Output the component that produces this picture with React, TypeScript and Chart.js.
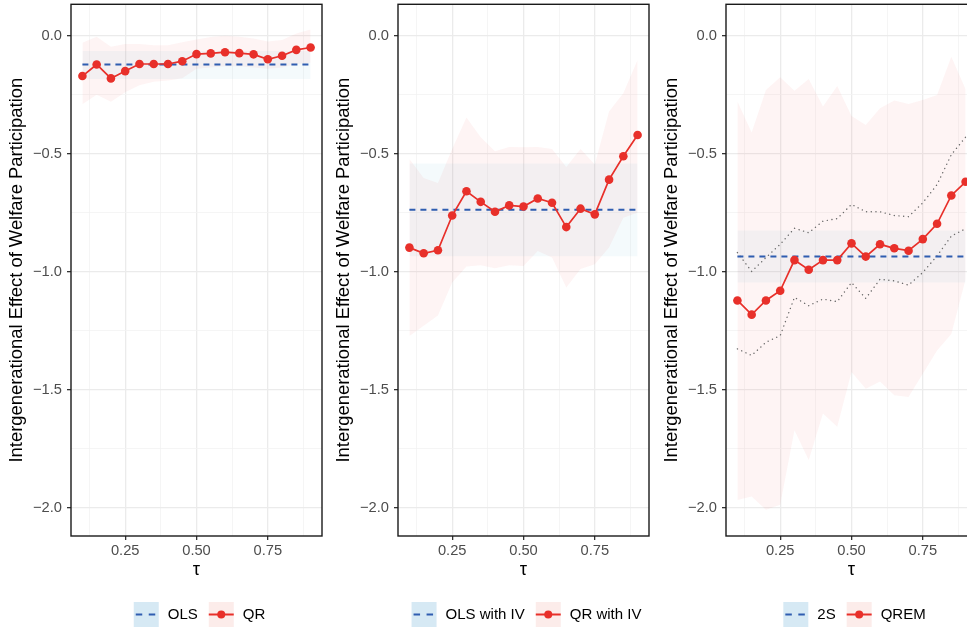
import React, { useEffect, useRef } from 'react';
import { Chart, registerables } from 'chart.js';

Chart.register(...registerables);

// ---------- data ----------
const tau = [0.1, 0.15, 0.2, 0.25, 0.3, 0.35, 0.4, 0.45, 0.5, 0.55, 0.6, 0.65, 0.7, 0.75, 0.8, 0.85, 0.9];

// Panel 1: OLS / QR
const qrEst = [-0.171, -0.122, -0.181, -0.150, -0.120, -0.120, -0.120, -0.108, -0.078, -0.075, -0.070, -0.074, -0.079, -0.100, -0.085, -0.060, -0.050];
const qrLower = [-0.29, -0.25, -0.28, -0.24, -0.21, -0.195, -0.19, -0.18, -0.14, -0.135, -0.13, -0.13, -0.135, -0.14, -0.135, -0.12, -0.115];
const qrUpper = [-0.03, -0.005, -0.047, -0.035, -0.035, -0.04, -0.04, -0.028, -0.016, -0.006, 0.0, -0.005, -0.012, -0.025, -0.018, 0.009, 0.026];
const olsEst = -0.122;
const olsLower = -0.184;
const olsUpper = -0.065;

// Panel 2: OLS with IV / QR with IV
const qrIvEst = [-0.898, -0.922, -0.909, -0.762, -0.659, -0.704, -0.746, -0.719, -0.724, -0.690, -0.708, -0.811, -0.733, -0.757, -0.610, -0.511, -0.421];
const qrIvLower = [-1.273, -1.229, -1.186, -1.046, -0.978, -0.973, -0.985, -0.973, -0.976, -0.912, -0.940, -1.067, -0.989, -0.968, -0.898, -0.771, -0.750];
const qrIvUpper = [-0.522, -0.603, -0.624, -0.480, -0.347, -0.430, -0.490, -0.472, -0.473, -0.472, -0.480, -0.556, -0.480, -0.546, -0.321, -0.244, -0.103];
const olsIvEst = -0.738;
const olsIvLower = -0.935;
const olsIvUpper = -0.542;

// Panel 3: 2S / QREM
const qremEst = [-1.122, -1.182, -1.122, -1.081, -0.951, -0.992, -0.951, -0.951, -0.880, -0.936, -0.884, -0.901, -0.911, -0.862, -0.797, -0.677, -0.619];
const qremLower = [-1.967, -1.953, -2.009, -1.988, -1.672, -1.798, -1.601, -1.657, -1.425, -1.496, -1.465, -1.524, -1.531, -1.432, -1.334, -1.264, -1.032];
const qremUpper = [-0.279, -0.410, -0.230, -0.176, -0.233, -0.184, -0.300, -0.213, -0.340, -0.378, -0.307, -0.275, -0.289, -0.272, -0.251, -0.089, -0.227];
const qremDotLower = [-1.327, -1.355, -1.299, -1.271, -1.109, -1.144, -1.116, -1.127, -1.046, -1.113, -1.032, -1.039, -1.057, -1.003, -0.933, -0.849, -0.818];
const qremDotUpper = [-0.919, -0.999, -0.940, -0.884, -0.816, -0.835, -0.786, -0.775, -0.715, -0.746, -0.746, -0.762, -0.767, -0.708, -0.631, -0.504, -0.430];
const twoSEst = -0.936;
const twoSLower = -1.046;
const twoSUpper = -0.825;

// axes
const yBreaks = [-2, -1.5, -1, -0.5, 0];
const yLabels = ['\u22122.0', '\u22121.5', '\u22121.0', '\u22120.5', '0.0'];
const yMinor = [-1.75, -1.25, -0.75, -0.25];
const xBreaks = [0.25, 0.5, 0.75];
const xLabels = ['0.25', '0.50', '0.75'];
const xMinor = [0.125, 0.375, 0.625, 0.875];
const yTitle = 'Intergenerational Effect of Welfare Participation';
const xTitle = '\u03c4';

// ---------- styles ----------
const FONT = '"Liberation Sans", Arial, Helvetica, sans-serif';
const RED = '#E8302A';
const BLUE = '#2F5DB0';
const RED_FILL = 'rgba(230, 40, 30, 0.05)';
const BLUE_FILL = 'rgba(40, 165, 205, 0.05)';
const RED_KEY = '#FCECEA';
const BLUE_KEY = '#D6E9F4';

const near = (a: number, b: number) => Math.abs(a - b) < 1e-6;

type PanelCfg = {
  meanLabel: string;
  qrLabel: string;
  est: number[];
  lower: number[];
  upper: number[];
  mean: number;
  meanLo: number;
  meanHi: number;
  dotLo?: number[];
  dotHi?: number[];
};

const panels: PanelCfg[] = [
  { meanLabel: 'OLS', qrLabel: 'QR', est: qrEst, lower: qrLower, upper: qrUpper, mean: olsEst, meanLo: olsLower, meanHi: olsUpper },
  { meanLabel: 'OLS with IV', qrLabel: 'QR with IV', est: qrIvEst, lower: qrIvLower, upper: qrIvUpper, mean: olsIvEst, meanLo: olsIvLower, meanHi: olsIvUpper },
  { meanLabel: '2S', qrLabel: 'QREM', est: qremEst, lower: qremLower, upper: qremUpper, mean: twoSEst, meanLo: twoSLower, meanHi: twoSUpper, dotLo: qremDotLower, dotHi: qremDotUpper },
];

const PANEL_W = 327;
const PANEL_H = 629;
const panelLefts = [0, 327, 655];

const framePlugin = {
  id: 'ggFrame',
  afterDraw(chart: any) {
    const { ctx, chartArea } = chart;
    ctx.save();
    ctx.strokeStyle = '#1A1A1A';
    ctx.lineWidth = 1.4;
    ctx.strokeRect(chartArea.left, chartArea.top, chartArea.right - chartArea.left, chartArea.bottom - chartArea.top);
    ctx.restore();
  },
};

const legendPlugin = {
  id: 'ggLegend',
  afterDraw(chart: any, _args: any, opts: any) {
    const { ctx, chartArea } = chart;
    const items: { label: string; kind: string }[] = opts.items || [];
    ctx.save();
    ctx.font = '15px ' + FONT;
    const keyW = 25;
    const keyH = 25;
    const gapKT = 9;
    const gapItem = 11;
    const widths = items.map((it) => keyW + gapKT + ctx.measureText(it.label).width);
    const total = widths.reduce((a, b) => a + b, 0) + gapItem * (items.length - 1);
    let x = (chartArea.left + chartArea.right) / 2 + 3 - total / 2;
    const yTop = chart.height - 27;
    const yc = yTop + keyH / 2;
    items.forEach((it, i) => {
      if (it.kind === 'mean') {
        ctx.fillStyle = BLUE_KEY;
        ctx.fillRect(x, yTop, keyW, keyH);
        ctx.strokeStyle = BLUE;
        ctx.lineWidth = 2;
        ctx.setLineDash([6.5, 6.5]);
        ctx.beginPath();
        ctx.moveTo(x + 2, yc);
        ctx.lineTo(x + keyW, yc);
        ctx.stroke();
        ctx.setLineDash([]);
      } else {
        ctx.fillStyle = RED_KEY;
        ctx.fillRect(x, yTop, keyW, keyH);
        ctx.strokeStyle = RED;
        ctx.lineWidth = 2;
        ctx.beginPath();
        ctx.moveTo(x, yc);
        ctx.lineTo(x + keyW, yc);
        ctx.stroke();
        ctx.fillStyle = RED;
        ctx.beginPath();
        ctx.arc(x + keyW / 2, yc, 4, 0, Math.PI * 2);
        ctx.fill();
      }
      ctx.fillStyle = '#000000';
      ctx.textBaseline = 'middle';
      ctx.textAlign = 'left';
      ctx.fillText(it.label, x + keyW + gapKT, yc + 0.5);
      x += widths[i] + gapItem;
    });
    ctx.restore();
  },
};

function pts(ys: number[]) {
  return tau.map((t, i) => ({ x: t, y: ys[i] }));
}
function flat(v: number) {
  return [{ x: tau[0], y: v }, { x: tau[tau.length - 1], y: v }];
}

function buildConfig(p: PanelCfg): any {
  const hidden = { borderColor: 'rgba(0,0,0,0)', borderWidth: 0, pointRadius: 0, fill: false };
  const datasets: any[] = [
    { ...hidden, data: flat(p.meanLo), order: 20 },
    { ...hidden, data: flat(p.meanHi), fill: '-1', backgroundColor: BLUE_FILL, order: 19 },
    { ...hidden, data: pts(p.lower), order: 18 },
    { ...hidden, data: pts(p.upper), fill: '-1', backgroundColor: RED_FILL, order: 17 },
  ];
  if (p.dotLo && p.dotHi) {
    [p.dotLo, p.dotHi].forEach((d) => {
      datasets.push({
        data: pts(d), borderColor: '#6A6A6A', borderWidth: 1.4, borderDash: [0.1, 4.6], borderCapStyle: 'round',
        pointRadius: 0, fill: false, order: 5,
      });
    });
  }
  datasets.push({ data: flat(p.mean), borderColor: BLUE, borderWidth: 2, borderDash: [6, 5], pointRadius: 0, fill: false, order: 3 });
  datasets.push({
    data: pts(p.est), borderColor: RED, borderWidth: 1.7, pointRadius: 4.3, pointBackgroundColor: RED,
    pointBorderWidth: 0, pointHoverRadius: 4.3, fill: false, order: 1,
  });

  const yTickVals = [...yBreaks, ...yMinor].sort((a, b) => a - b);
  const xTickVals = [...xBreaks, ...xMinor].sort((a, b) => a - b);
  const yMajorIdx = (v: number) => yBreaks.findIndex((b) => near(b, v));
  const xMajorIdx = (v: number) => xBreaks.findIndex((b) => near(b, v));

  const gridFor = (isMajor: (v: number) => boolean) => ({
    color: (c: any) => (c.tick && isMajor(c.tick.value) ? '#EBEBEB' : '#F3F3F3'),
    lineWidth: (c: any) => (c.tick && isMajor(c.tick.value) ? 1.3 : 0.8),
    drawTicks: true,
    tickLength: 4,
    tickColor: (c: any) => (c.tick && isMajor(c.tick.value) ? '#333333' : 'rgba(0,0,0,0)'),
    tickWidth: 1.3,
  });

  return {
    type: 'line',
    data: { datasets },
    plugins: [framePlugin, legendPlugin],
    options: {
      responsive: false,
      animation: false,
      devicePixelRatio: 1,
      layout: { padding: { left: 0, right: 5, top: 4, bottom: 48 } },
      plugins: {
        legend: { display: false },
        tooltip: { enabled: false },
        ggLegend: { items: [{ label: p.meanLabel, kind: 'mean' }, { label: p.qrLabel, kind: 'qr' }] },
      },
      scales: {
        x: {
          type: 'linear',
          min: 0.06,
          max: 0.94,
          bounds: 'data',
          afterBuildTicks: (s: any) => { s.ticks = xTickVals.map((v) => ({ value: v })); },
          afterFit: (s: any) => { s.height = 45; s.paddingLeft = 0; s.paddingRight = 0; },
          grid: gridFor((v) => xMajorIdx(v) >= 0),
          border: { display: false },
          ticks: {
            autoSkip: false, maxRotation: 0, minRotation: 0, padding: 2,
            color: '#4D4D4D', font: { family: FONT, size: 14.7 },
            callback: (v: number) => { const i = xMajorIdx(v); return i >= 0 ? xLabels[i] : ''; },
          },
          title: { display: true, text: xTitle, color: '#000000', font: { family: FONT, size: 18.4 }, padding: { top: 0, bottom: 0 } },
        },
        y: {
          type: 'linear',
          min: -2.12,
          max: 0.133,
          bounds: 'data',
          afterBuildTicks: (s: any) => { s.ticks = yTickVals.map((v) => ({ value: v })); },
          afterFit: (s: any) => { s.width = 71; s.paddingTop = 0; s.paddingBottom = 0; },
          grid: gridFor((v) => yMajorIdx(v) >= 0),
          border: { display: false },
          ticks: {
            autoSkip: false, padding: 5,
            color: '#4D4D4D', font: { family: FONT, size: 14.7 },
            callback: (v: number) => { const i = yMajorIdx(v); return i >= 0 ? yLabels[i] : ''; },
          },
          title: { display: true, text: yTitle, color: '#000000', font: { family: FONT, size: 18.4 }, padding: { top: 6, bottom: 0 } },
        },
      },
    },
  };
}

function Panel({ cfg, left }: { cfg: PanelCfg; left: number }) {
  const ref = useRef<HTMLCanvasElement>(null);
  useEffect(() => {
    if (!ref.current) return;
    const chart = new Chart(ref.current, buildConfig(cfg));
    return () => chart.destroy();
  }, [cfg]);
  return (
    <div style={{ position: 'absolute', left, top: 0, width: PANEL_W, height: PANEL_H }}>
      <canvas ref={ref} width={PANEL_W} height={PANEL_H} style={{ display: 'block' }} />
    </div>
  );
}

export default function App() {
  return (
    <div style={{ position: 'fixed', left: 0, top: 0, width: 967, height: 629, overflow: 'hidden', background: '#FFFFFF' }}>
      {panels.map((p, i) => (
        <Panel key={i} cfg={p} left={panelLefts[i]} />
      ))}
    </div>
  );
}
